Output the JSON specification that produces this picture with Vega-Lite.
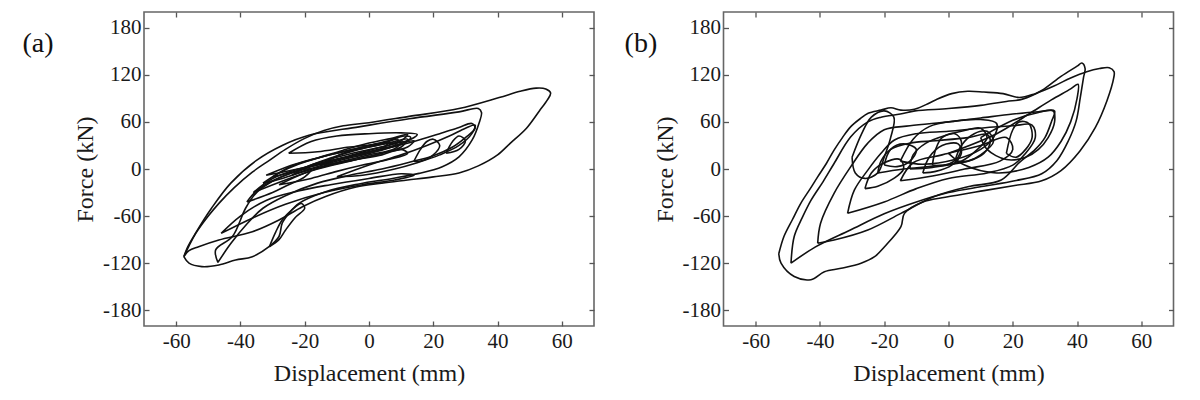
{
"$schema": "https://vega.github.io/schema/vega-lite/v6.json",
"padding": {"left": 21, "top": 10, "right": 0, "bottom": 0},
"background": "white",
"spacing": 27.5,
"config": {
  "view": {"stroke": "#666", "strokeWidth": 1.6},
  "font": "Liberation Serif",
  "axis": {"domain": false, "grid": false, "tickSize": -5, "tickColor": "#555", "tickWidth": 1.3, "labelFont": "Liberation Serif", "labelFontSize": 21, "labelColor": "#1a1a1a", "titleFont": "Liberation Serif", "titleFontSize": 24, "titleFontWeight": "normal", "titleColor": "#1a1a1a", "labelExpr": "datum.value < 0 ? '-' + abs(datum.value) : '' + datum.value"},
  "axisX": {"labelPadding": 9, "titlePadding": 10},
  "axisY": {"labelPadding": 8, "titlePadding": 5}
},
"datasets": {
"a": [
{"l":1,"x":-57.6,"y":-111.7},{"l":1,"x":-56,"y":-98},{"l":1,"x":-53.9,"y":-82},{"l":1,"x":-50,"y":-60},{"l":1,"x":-46.7,"y":-43.8},{"l":1,"x":-42,"y":-24},{"l":1,"x":-36.3,"y":-4},{"l":1,"x":-31,"y":11},{"l":1,"x":-26,"y":25},{"l":1,"x":-20,"y":39},{"l":1,"x":-14,"y":49},{"l":1,"x":-8,"y":55},{"l":1,"x":0,"y":59},{"l":1,"x":12.5,"y":67},{"l":1,"x":28,"y":77},{"l":1,"x":40.5,"y":91},{"l":1,"x":47,"y":99},{"l":1,"x":52,"y":103},{"l":1,"x":55,"y":102},{"l":1,"x":56.5,"y":97},{"l":1,"x":55.5,"y":88},{"l":1,"x":53,"y":74},{"l":1,"x":49,"y":52},{"l":1,"x":44,"y":33},{"l":1,"x":40,"y":18},{"l":1,"x":34,"y":4},{"l":1,"x":28,"y":-5},{"l":1,"x":20,"y":-10},{"l":1,"x":12,"y":-14},{"l":1,"x":4,"y":-18},{"l":1,"x":-4,"y":-23},{"l":1,"x":-13.5,"y":-35},{"l":1,"x":-20.7,"y":-48},{"l":1,"x":-28,"y":-65},{"l":1,"x":-36.3,"y":-80},{"l":1,"x":-46.7,"y":-90.5},{"l":1,"x":-53,"y":-99},{"l":1,"x":-56,"y":-104},{"l":1,"x":-57.6,"y":-111.7},
{"l":2,"x":-57.6,"y":-111.7},{"l":2,"x":-56,"y":-120},{"l":2,"x":-52,"y":-124.4},{"l":2,"x":-46.7,"y":-122.3},{"l":2,"x":-41.5,"y":-116},{"l":2,"x":-36.3,"y":-111.7},{"l":2,"x":-31.1,"y":-99},{"l":2,"x":-28,"y":-86},{"l":2,"x":-27,"y":-69},{"l":2,"x":-24.9,"y":-56.5},{"l":2,"x":-21.8,"y":-43.8},{"l":2,"x":-13.5,"y":-29},{"l":2,"x":-3.1,"y":-19},{"l":2,"x":7.3,"y":-12},{"l":2,"x":15.6,"y":-5.6},{"l":2,"x":22.8,"y":3},{"l":2,"x":28,"y":15.5},{"l":2,"x":32.1,"y":37},{"l":2,"x":34.2,"y":58},{"l":2,"x":35,"y":72},{"l":2,"x":34,"y":77},{"l":2,"x":28,"y":72.8},{"l":2,"x":12.5,"y":64},{"l":2,"x":-3.1,"y":53.7},{"l":2,"x":-18.7,"y":43},{"l":2,"x":-27,"y":30},{"l":2,"x":-35,"y":11},{"l":2,"x":-43,"y":-18},{"l":2,"x":-49,"y":-50},{"l":2,"x":-54,"y":-82},{"l":2,"x":-56.5,"y":-100},{"l":2,"x":-57.6,"y":-111.7},
{"l":3,"x":-47,"y":-119},{"l":3,"x":-47.7,"y":-103},{"l":3,"x":-42.5,"y":-86},{"l":3,"x":-38.4,"y":-50},{"l":3,"x":-35.2,"y":-31},{"l":3,"x":-31.1,"y":-18.3},{"l":3,"x":-25.9,"y":-7.8},{"l":3,"x":-15.6,"y":7},{"l":3,"x":-6.2,"y":15.5},{"l":3,"x":4,"y":25},{"l":3,"x":14,"y":35},{"l":3,"x":22,"y":45},{"l":3,"x":28,"y":53},{"l":3,"x":32,"y":58},{"l":3,"x":33,"y":52},{"l":3,"x":30,"y":40},{"l":3,"x":26,"y":28},{"l":3,"x":20,"y":17},{"l":3,"x":12,"y":8},{"l":3,"x":4,"y":0},{"l":3,"x":-6,"y":-8},{"l":3,"x":-16,"y":-18},{"l":3,"x":-26,"y":-34},{"l":3,"x":-33,"y":-50},{"l":3,"x":-38,"y":-70},{"l":3,"x":-43,"y":-95},{"l":3,"x":-47,"y":-119},
{"l":4,"x":-33,"y":-18},{"l":4,"x":-28,"y":-5},{"l":4,"x":-22,"y":6},{"l":4,"x":-15,"y":15},{"l":4,"x":-8,"y":22},{"l":4,"x":0,"y":30},{"l":4,"x":6,"y":36},{"l":4,"x":11,"y":42},{"l":4,"x":13,"y":40},{"l":4,"x":10,"y":32},{"l":4,"x":4,"y":24},{"l":4,"x":-4,"y":16},{"l":4,"x":-12,"y":8},{"l":4,"x":-20,"y":-2},{"l":4,"x":-27,"y":-12},{"l":4,"x":-33,"y":-18},
{"l":5,"x":-30,"y":-10},{"l":5,"x":-24,"y":4},{"l":5,"x":-16,"y":14},{"l":5,"x":-8,"y":24},{"l":5,"x":0,"y":33},{"l":5,"x":8,"y":40},{"l":5,"x":12,"y":44},{"l":5,"x":10,"y":36},{"l":5,"x":2,"y":26},{"l":5,"x":-6,"y":17},{"l":5,"x":-14,"y":8},{"l":5,"x":-22,"y":-2},{"l":5,"x":-30,"y":-10},
{"l":6,"x":-24,"y":-8},{"l":6,"x":-18,"y":5},{"l":6,"x":-10,"y":15},{"l":6,"x":-2,"y":23},{"l":6,"x":6,"y":30},{"l":6,"x":10,"y":34},{"l":6,"x":8,"y":26},{"l":6,"x":0,"y":18},{"l":6,"x":-8,"y":10},{"l":6,"x":-16,"y":2},{"l":6,"x":-24,"y":-8},
{"l":7,"x":-20,"y":2},{"l":7,"x":-12,"y":14},{"l":7,"x":-4,"y":24},{"l":7,"x":4,"y":32},{"l":7,"x":9,"y":38},{"l":7,"x":8,"y":30},{"l":7,"x":0,"y":22},{"l":7,"x":-8,"y":14},{"l":7,"x":-15,"y":6},{"l":7,"x":-20,"y":2},
{"l":8,"x":-28,"y":-20},{"l":8,"x":-20,"y":-5},{"l":8,"x":-12,"y":5},{"l":8,"x":-4,"y":12},{"l":8,"x":4,"y":18},{"l":8,"x":10,"y":25},{"l":8,"x":12,"y":20},{"l":8,"x":6,"y":12},{"l":8,"x":-2,"y":5},{"l":8,"x":-10,"y":-3},{"l":8,"x":-18,"y":-12},{"l":8,"x":-28,"y":-20},
{"l":9,"x":-25,"y":20},{"l":9,"x":-18,"y":35},{"l":9,"x":-10,"y":42},{"l":9,"x":0,"y":45},{"l":9,"x":10,"y":46},{"l":9,"x":15,"y":44},{"l":9,"x":12,"y":36},{"l":9,"x":4,"y":32},{"l":9,"x":-6,"y":28},{"l":9,"x":-16,"y":22},{"l":9,"x":-25,"y":20},
{"l":10,"x":-38,"y":-42},{"l":10,"x":-35,"y":-28},{"l":10,"x":-30,"y":-15},{"l":10,"x":-24,"y":-5},{"l":10,"x":-18,"y":0},{"l":10,"x":-20,"y":-10},{"l":10,"x":-25,"y":-20},{"l":10,"x":-30,"y":-30},{"l":10,"x":-38,"y":-42},
{"l":11,"x":-10,"y":-10},{"l":11,"x":0,"y":5},{"l":11,"x":10,"y":18},{"l":11,"x":18,"y":30},{"l":11,"x":25,"y":42},{"l":11,"x":30,"y":52},{"l":11,"x":33,"y":56},{"l":11,"x":32,"y":45},{"l":11,"x":28,"y":30},{"l":11,"x":22,"y":18},{"l":11,"x":15,"y":8},{"l":11,"x":8,"y":0},{"l":11,"x":-2,"y":-8},{"l":11,"x":-10,"y":-10},
{"l":12,"x":14,"y":10},{"l":12,"x":16,"y":25},{"l":12,"x":18,"y":35},{"l":12,"x":20,"y":38},{"l":12,"x":22,"y":30},{"l":12,"x":20,"y":18},{"l":12,"x":16,"y":10},{"l":12,"x":14,"y":10},
{"l":13,"x":24,"y":20},{"l":13,"x":26,"y":35},{"l":13,"x":28,"y":42},{"l":13,"x":30,"y":36},{"l":13,"x":28,"y":25},{"l":13,"x":24,"y":20},
{"l":14,"x":-31,"y":-99},{"l":14,"x":-29,"y":-80},{"l":14,"x":-27,"y":-65},{"l":14,"x":-24,"y":-52},{"l":14,"x":-21,"y":-44},{"l":14,"x":-20,"y":-50},{"l":14,"x":-23,"y":-62},{"l":14,"x":-26,"y":-78},{"l":14,"x":-28,"y":-90},{"l":14,"x":-31,"y":-99},
{"l":15,"x":-46,"y":-82},{"l":15,"x":-40,"y":-60},{"l":15,"x":-32,"y":-40},{"l":15,"x":-22,"y":-28},{"l":15,"x":-12,"y":-20},{"l":15,"x":0,"y":-12},{"l":15,"x":10,"y":-6},{"l":15,"x":14,"y":-8},{"l":15,"x":8,"y":-14},{"l":15,"x":-2,"y":-20},{"l":15,"x":-14,"y":-30},{"l":15,"x":-26,"y":-45},{"l":15,"x":-36,"y":-62},{"l":15,"x":-46,"y":-82},
{"l":16,"x":-36,"y":-30},{"l":16,"x":-30,"y":-12},{"l":16,"x":-22,"y":0},{"l":16,"x":-12,"y":10},{"l":16,"x":-2,"y":20},{"l":16,"x":8,"y":30},{"l":16,"x":14,"y":36},{"l":16,"x":12,"y":28},{"l":16,"x":4,"y":20},{"l":16,"x":-6,"y":10},{"l":16,"x":-16,"y":0},{"l":16,"x":-26,"y":-14},{"l":16,"x":-36,"y":-30},
{"l":17,"x":-15,"y":5},{"l":17,"x":-8,"y":20},{"l":17,"x":0,"y":28},{"l":17,"x":6,"y":33},{"l":17,"x":12,"y":38},{"l":17,"x":10,"y":28},{"l":17,"x":4,"y":20},{"l":17,"x":-4,"y":12},{"l":17,"x":-15,"y":5},
{"l":18,"x":-32,"y":-8},{"l":18,"x":-26,"y":2},{"l":18,"x":-18,"y":12},{"l":18,"x":-10,"y":20},{"l":18,"x":-2,"y":28},{"l":18,"x":6,"y":34},{"l":18,"x":4,"y":26},{"l":18,"x":-4,"y":18},{"l":18,"x":-12,"y":10},{"l":18,"x":-20,"y":2},{"l":18,"x":-32,"y":-8}
],
"b": [
{"l":1,"x":-52.8,"y":-108},{"l":1,"x":-51.2,"y":-86},{"l":1,"x":-48.5,"y":-64},{"l":1,"x":-46,"y":-44},{"l":1,"x":-43,"y":-25},{"l":1,"x":-40.7,"y":-10},{"l":1,"x":-38,"y":7},{"l":1,"x":-35.6,"y":24},{"l":1,"x":-33,"y":40},{"l":1,"x":-30.4,"y":54},{"l":1,"x":-27.5,"y":64},{"l":1,"x":-25,"y":71},{"l":1,"x":-21,"y":75},{"l":1,"x":-17.9,"y":78},{"l":1,"x":-14.8,"y":75},{"l":1,"x":-10.6,"y":76},{"l":1,"x":-7,"y":82},{"l":1,"x":-4,"y":88},{"l":1,"x":1,"y":96},{"l":1,"x":6,"y":99},{"l":1,"x":11,"y":98},{"l":1,"x":17,"y":96},{"l":1,"x":22,"y":91},{"l":1,"x":27,"y":96},{"l":1,"x":33,"y":106},{"l":1,"x":38,"y":116},{"l":1,"x":43,"y":124},{"l":1,"x":47,"y":128},{"l":1,"x":50,"y":129},{"l":1,"x":51.5,"y":124},{"l":1,"x":51.4,"y":116},{"l":1,"x":49.3,"y":87},{"l":1,"x":45.7,"y":53},{"l":1,"x":40.9,"y":23},{"l":1,"x":35,"y":-2},{"l":1,"x":29,"y":-15},{"l":1,"x":20.6,"y":-21},{"l":1,"x":11,"y":-27.5},{"l":1,"x":-1,"y":-36},{"l":1,"x":-8,"y":-42},{"l":1,"x":-13.7,"y":-56.5},{"l":1,"x":-14.8,"y":-73.5},{"l":1,"x":-19.9,"y":-99},{"l":1,"x":-23,"y":-111.7},{"l":1,"x":-27.2,"y":-120},{"l":1,"x":-33.4,"y":-126.5},{"l":1,"x":-38.6,"y":-130.8},{"l":1,"x":-42.8,"y":-141},{"l":1,"x":-48,"y":-137},{"l":1,"x":-52.1,"y":-120},{"l":1,"x":-52.8,"y":-108},
{"l":2,"x":-49,"y":-120},{"l":2,"x":-48,"y":-86},{"l":2,"x":-45.5,"y":-62},{"l":2,"x":-42.8,"y":-40},{"l":2,"x":-39,"y":-16},{"l":2,"x":-35.6,"y":7},{"l":2,"x":-30.4,"y":41},{"l":2,"x":-25.1,"y":60},{"l":2,"x":-21,"y":66},{"l":2,"x":-15,"y":70},{"l":2,"x":-10.4,"y":74},{"l":2,"x":0,"y":77},{"l":2,"x":10,"y":81},{"l":2,"x":18,"y":86},{"l":2,"x":23,"y":89},{"l":2,"x":29,"y":100},{"l":2,"x":35,"y":118},{"l":2,"x":40,"y":131},{"l":2,"x":41.5,"y":135},{"l":2,"x":42.5,"y":128},{"l":2,"x":42,"y":116.5},{"l":2,"x":41,"y":91},{"l":2,"x":39.7,"y":61},{"l":2,"x":37.3,"y":36},{"l":2,"x":33.7,"y":10.6},{"l":2,"x":29,"y":-6},{"l":2,"x":20.6,"y":-15},{"l":2,"x":11,"y":-22},{"l":2,"x":0,"y":-30},{"l":2,"x":-10,"y":-42},{"l":2,"x":-20,"y":-57},{"l":2,"x":-30.7,"y":-78},{"l":2,"x":-41.5,"y":-99.5},{"l":2,"x":-49,"y":-120},
{"l":3,"x":-40.7,"y":-94.6},{"l":3,"x":-39.8,"y":-69},{"l":3,"x":-35.6,"y":-31},{"l":3,"x":-30.4,"y":3},{"l":3,"x":-25.1,"y":33},{"l":3,"x":-20,"y":50},{"l":3,"x":-12,"y":55},{"l":3,"x":0,"y":60},{"l":3,"x":10,"y":65},{"l":3,"x":20,"y":70},{"l":3,"x":28,"y":73},{"l":3,"x":33,"y":74},{"l":3,"x":32,"y":60},{"l":3,"x":30,"y":40},{"l":3,"x":27,"y":25},{"l":3,"x":22,"y":8},{"l":3,"x":16.4,"y":-14},{"l":3,"x":6,"y":-22.6},{"l":3,"x":-4.4,"y":-35},{"l":3,"x":-14.8,"y":-56.5},{"l":3,"x":-25.1,"y":-77.7},{"l":3,"x":-35.6,"y":-90.5},{"l":3,"x":-40.7,"y":-94.6},
{"l":4,"x":-31.4,"y":-56.5},{"l":4,"x":-29.3,"y":-27},{"l":4,"x":-25.1,"y":-1.4},{"l":4,"x":-21,"y":20},{"l":4,"x":-16.8,"y":37},{"l":4,"x":-10,"y":45},{"l":4,"x":0,"y":48},{"l":4,"x":10,"y":52},{"l":4,"x":20,"y":55},{"l":4,"x":26,"y":56},{"l":4,"x":27,"y":40},{"l":4,"x":24,"y":20},{"l":4,"x":20,"y":5},{"l":4,"x":12,"y":-5},{"l":4,"x":0,"y":-12},{"l":4,"x":-10,"y":-25},{"l":4,"x":-20,"y":-42},{"l":4,"x":-31.4,"y":-56.5},
{"l":5,"x":-30,"y":15},{"l":5,"x":-27,"y":45},{"l":5,"x":-24,"y":66},{"l":5,"x":-20,"y":74},{"l":5,"x":-17,"y":66},{"l":5,"x":-18,"y":40},{"l":5,"x":-20,"y":15},{"l":5,"x":-22,"y":-5},{"l":5,"x":-26,"y":-12},{"l":5,"x":-29,"y":-5},{"l":5,"x":-30,"y":15},
{"l":6,"x":-22,"y":-5},{"l":6,"x":-21,"y":10},{"l":6,"x":-18,"y":25},{"l":6,"x":-12,"y":33},{"l":6,"x":-4,"y":36},{"l":6,"x":6,"y":40},{"l":6,"x":12,"y":44},{"l":6,"x":13,"y":35},{"l":6,"x":11,"y":20},{"l":6,"x":6,"y":10},{"l":6,"x":-4,"y":4},{"l":6,"x":-14,"y":0},{"l":6,"x":-22,"y":-5},
{"l":7,"x":-12,"y":0},{"l":7,"x":-11,"y":18},{"l":7,"x":-7,"y":33},{"l":7,"x":0,"y":44},{"l":7,"x":5,"y":49},{"l":7,"x":10,"y":52},{"l":7,"x":12,"y":40},{"l":7,"x":9,"y":25},{"l":7,"x":4,"y":10},{"l":7,"x":-5,"y":2},{"l":7,"x":-12,"y":0},
{"l":8,"x":-5,"y":5},{"l":8,"x":-4,"y":25},{"l":8,"x":-2,"y":40},{"l":8,"x":2,"y":45},{"l":8,"x":4,"y":35},{"l":8,"x":3,"y":15},{"l":8,"x":-1,"y":5},{"l":8,"x":-5,"y":5},
{"l":9,"x":-15,"y":-15},{"l":9,"x":-11,"y":8},{"l":9,"x":-2,"y":18},{"l":9,"x":10,"y":30},{"l":9,"x":18,"y":40},{"l":9,"x":20,"y":25},{"l":9,"x":16,"y":10},{"l":9,"x":5,"y":0},{"l":9,"x":-5,"y":-9},{"l":9,"x":-15,"y":-15},
{"l":10,"x":-15,"y":10},{"l":10,"x":-11,"y":38},{"l":10,"x":-6,"y":54},{"l":10,"x":2,"y":61},{"l":10,"x":10,"y":63},{"l":10,"x":15,"y":58},{"l":10,"x":14,"y":40},{"l":10,"x":10,"y":25},{"l":10,"x":2,"y":12},{"l":10,"x":-8,"y":6},{"l":10,"x":-15,"y":10},
{"l":11,"x":0,"y":20},{"l":11,"x":15,"y":45},{"l":11,"x":25,"y":70},{"l":11,"x":32,"y":88},{"l":11,"x":38,"y":102},{"l":11,"x":40.3,"y":108},{"l":11,"x":40,"y":90},{"l":11,"x":38,"y":60},{"l":11,"x":35,"y":35},{"l":11,"x":31,"y":15},{"l":11,"x":25,"y":2},{"l":11,"x":15,"y":-5},{"l":11,"x":5,"y":5},{"l":11,"x":0,"y":20},
{"l":12,"x":10,"y":40},{"l":12,"x":20,"y":62},{"l":12,"x":28,"y":72},{"l":12,"x":32.5,"y":74},{"l":12,"x":33,"y":60},{"l":12,"x":31,"y":40},{"l":12,"x":28,"y":25},{"l":12,"x":24,"y":15},{"l":12,"x":18,"y":12},{"l":12,"x":12,"y":25},{"l":12,"x":10,"y":40},
{"l":13,"x":18,"y":20},{"l":13,"x":20,"y":50},{"l":13,"x":22,"y":60},{"l":13,"x":25,"y":58},{"l":13,"x":26,"y":40},{"l":13,"x":24,"y":25},{"l":13,"x":21,"y":15},{"l":13,"x":18,"y":20},
{"l":14,"x":-26,"y":-25},{"l":14,"x":-24,"y":-5},{"l":14,"x":-20,"y":8},{"l":14,"x":-15,"y":12},{"l":14,"x":-14,"y":0},{"l":14,"x":-17,"y":-12},{"l":14,"x":-22,"y":-22},{"l":14,"x":-26,"y":-25},
{"l":15,"x":-8,"y":-5},{"l":15,"x":-6,"y":15},{"l":15,"x":-2,"y":30},{"l":15,"x":3,"y":32},{"l":15,"x":4,"y":20},{"l":15,"x":1,"y":5},{"l":15,"x":-4,"y":-3},{"l":15,"x":-8,"y":-5},
{"l":16,"x":-20,"y":5},{"l":16,"x":-18,"y":25},{"l":16,"x":-14,"y":32},{"l":16,"x":-10,"y":25},{"l":16,"x":-12,"y":10},{"l":16,"x":-16,"y":3},{"l":16,"x":-20,"y":5},
{"l":17,"x":2,"y":10},{"l":17,"x":4,"y":30},{"l":17,"x":8,"y":45},{"l":17,"x":12,"y":48},{"l":17,"x":14,"y":35},{"l":17,"x":10,"y":18},{"l":17,"x":6,"y":10},{"l":17,"x":2,"y":10}
],
"la": [{"x": -103, "y": 148.7, "t": "(a)"}],
"lb": [{"x": -95.7, "y": 148.7, "t": "(b)"}]
},
"hconcat": [
{
 "width": 450, "height": 314,
 "layer": [
  {"data": {"name": "a"},
   "mark": {"type": "line", "interpolate": "catmull-rom", "strokeWidth": 1.6, "color": "#111"},
   "encoding": {
     "x": {"field": "x", "type": "quantitative", "scale": {"domain": [-70, 70], "nice": false, "zero": false}, "axis": {"orient": "bottom", "values": [-60, -40, -20, 0, 20, 40, 60], "title": "Displacement (mm)"}},
     "y": {"field": "y", "type": "quantitative", "scale": {"domain": [-200, 200], "nice": false, "zero": false}, "axis": {"orient": "left", "values": [-180, -120, -60, 0, 60, 120, 180], "title": "Force (kN)"}},
     "detail": {"field": "l"},
     "order": {"value": null}
   }},
  {"data": {"name": "la"},
   "mark": {"type": "text", "fontSize": 28, "font": "Liberation Serif", "align": "center", "baseline": "alphabetic", "color": "#111"},
   "encoding": {
     "x": {"field": "x", "type": "quantitative", "scale": {"domain": [-70, 70], "nice": false, "zero": false}, "axis": {"orient": "top", "values": [-60, -40, -20, 0, 20, 40, 60], "labels": false, "title": null}},
     "y": {"field": "y", "type": "quantitative", "scale": {"domain": [-200, 200], "nice": false, "zero": false}, "axis": {"orient": "right", "values": [-180, -120, -60, 0, 60, 120, 180], "labels": false, "title": null}},
     "text": {"field": "t"}
   }}
 ],
 "resolve": {"axis": {"x": "independent", "y": "independent"}}
},
{
 "width": 450, "height": 314,
 "layer": [
  {"data": {"name": "b"},
   "mark": {"type": "line", "interpolate": "catmull-rom", "strokeWidth": 1.6, "color": "#111"},
   "encoding": {
     "x": {"field": "x", "type": "quantitative", "scale": {"domain": [-70, 70], "nice": false, "zero": false}, "axis": {"orient": "bottom", "values": [-60, -40, -20, 0, 20, 40, 60], "title": "Displacement (mm)"}},
     "y": {"field": "y", "type": "quantitative", "scale": {"domain": [-200, 200], "nice": false, "zero": false}, "axis": {"orient": "left", "values": [-180, -120, -60, 0, 60, 120, 180], "title": "Force (kN)"}},
     "detail": {"field": "l"},
     "order": {"value": null}
   }},
  {"data": {"name": "lb"},
   "mark": {"type": "text", "fontSize": 28, "font": "Liberation Serif", "align": "center", "baseline": "alphabetic", "color": "#111"},
   "encoding": {
     "x": {"field": "x", "type": "quantitative", "scale": {"domain": [-70, 70], "nice": false, "zero": false}, "axis": {"orient": "top", "values": [-60, -40, -20, 0, 20, 40, 60], "labels": false, "title": null}},
     "y": {"field": "y", "type": "quantitative", "scale": {"domain": [-200, 200], "nice": false, "zero": false}, "axis": {"orient": "right", "values": [-180, -120, -60, 0, 60, 120, 180], "labels": false, "title": null}},
     "text": {"field": "t"}
   }}
 ],
 "resolve": {"axis": {"x": "independent", "y": "independent"}}
}
]
}
